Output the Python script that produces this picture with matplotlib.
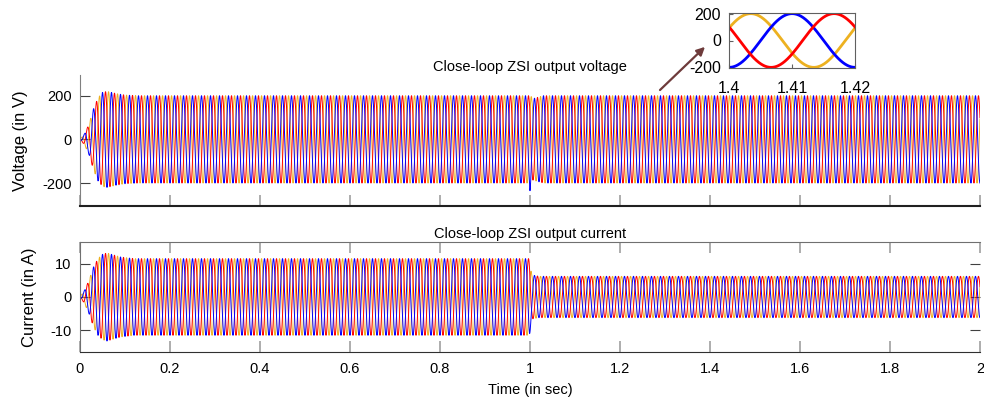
#%%

import numpy as np
import matplotlib
matplotlib.use("Agg")
import matplotlib.pyplot as plt
from matplotlib.patches import FancyArrowPatch

plt.rcParams['font.family'] = ['Liberation Sans', 'DejaVu Sans']

# %%

# Waveform settings
freq_hz = 50
phase_deg = {'blue': -90, 'orange': 28, 'red': 150}
line_colors = {'red': '#ff0000', 'blue': '#0000ff', 'orange': '#edb120'}

# Voltage envelope (peak value in V) at key times
volt_env_t = [0.0, 0.01, 0.02, 0.03, 0.04, 0.05, 0.06, 0.08, 0.10, 0.13, 0.998, 1.0, 1.004, 1.03, 2.0]
volt_env_a = [0, 25, 70, 140, 190, 215, 220, 210, 203, 200, 200, 235, 185, 200, 200]

# Current envelope (peak value in A) at key times
curr_env_t = [0.0, 0.01, 0.02, 0.03, 0.04, 0.05, 0.06, 0.07, 0.09, 0.12, 0.999, 1.004, 1.02, 2.0]
curr_env_a = [0, 2, 5, 9, 11.5, 12.8, 13.2, 12.8, 12.0, 11.5, 11.5, 6.6, 6.2, 6.2]

x_ticks = [0, 0.2, 0.4, 0.6, 0.8, 1, 1.2, 1.4, 1.6, 1.8, 2]
x_ticklabels = ['0', '0.2', '0.4', '0.6', '0.8', '1', '1.2', '1.4', '1.6', '1.8', '2']
volt_ticks = [-200, 0, 200]
curr_ticks = [-10, 0, 10]
inset_xticks = [1.4, 1.41, 1.42]
inset_yticks = [-200, 0, 200]

# %%

# Build the three-phase signals
t = np.linspace(0, 2, 40001)
w = 2 * np.pi * freq_hz
v_amp = np.interp(t, volt_env_t, volt_env_a)
i_amp = np.interp(t, curr_env_t, curr_env_a)
volt = {k: v_amp * np.sin(w * t + np.deg2rad(p)) for k, p in phase_deg.items()}
curr = {k: i_amp * np.sin(w * t + np.deg2rad(p)) for k, p in phase_deg.items()}

# %%

fig = plt.figure(figsize=(9.84, 4.05), dpi=100)
ax1 = fig.add_axes([0.0813, 0.4914, 0.9146, 0.3235])
ax2 = fig.add_axes([0.0813, 0.1309, 0.9146, 0.2716])

for k in ['orange', 'red', 'blue']:
    ax1.plot(t, volt[k], color=line_colors[k], lw=0.7)
    ax2.plot(t, curr[k], color=line_colors[k], lw=0.7)

# Top plot: only left and bottom spines
ax1.set_xlim(0, 2)
ax1.set_ylim(-305, 295)
ax1.set_xticks(x_ticks)
ax1.set_xticklabels([])
ax1.set_yticks(volt_ticks)
ax1.set_yticklabels([str(v) for v in volt_ticks])
for s in ['top', 'right']:
    ax1.spines[s].set_visible(False)
ax1.spines['left'].set_color('#808080')
ax1.spines['bottom'].set_color('#202020')
ax1.spines['bottom'].set_linewidth(1.5)
ax1.tick_params(axis='x', direction='in', length=8, color='#a0a0a0', width=1.2)
ax1.tick_params(axis='y', direction='in', length=7.5, color='#404040', labelsize=10.5, pad=6)
ax1.set_title('Close-loop ZSI output voltage', fontsize=10.5, pad=3)
ax1.set_ylabel('Voltage (in V)', fontsize=12, labelpad=10)

# Bottom plot
ax2.set_xlim(0, 2)
ax2.set_ylim(-16.5, 16.5)
ax2.set_xticks(x_ticks)
ax2.set_xticklabels(x_ticklabels)
ax2.set_yticks(curr_ticks)
ax2.set_yticklabels([str(v) for v in curr_ticks])
ax2.spines['right'].set_visible(False)
ax2.spines['top'].set_color('#707070')
ax2.spines['left'].set_color('#707070')
ax2.spines['bottom'].set_color('#303030')
ax2.tick_params(axis='x', direction='in', length=8, color='#a0a0a0', width=1.2,
                top=True, labelsize=10.5, pad=7)
ax2.tick_params(axis='y', direction='in', length=7.5, color='#404040', right=True,
                labelsize=10.5, pad=6)
ax2.set_title('Close-loop ZSI output current', fontsize=10.5, pad=3)
ax2.set_ylabel('Current (in A)', fontsize=12, labelpad=10)
ax2.set_xlabel('Time (in sec)', fontsize=10.5, labelpad=5)

# %%

# Zoomed inset around t = 1.4 s
ax3 = fig.add_axes([0.741, 0.832, 0.128, 0.136])
for k in ['orange', 'blue', 'red']:
    ax3.plot(t, volt[k], color=line_colors[k], lw=2)
ax3.set_xlim(1.4, 1.42)
ax3.set_ylim(-205, 205)
ax3.set_xticks(inset_xticks)
ax3.set_xticklabels(['1.4', '1.41', '1.42'])
ax3.set_yticks(inset_yticks)
ax3.set_yticklabels([str(v) for v in inset_yticks])
for s in ax3.spines.values():
    s.set_color('#606060')
ax3.tick_params(direction='in', length=3, color='#606060', labelsize=11.5)
ax3.tick_params(axis='x', pad=9)
ax3.tick_params(axis='y', pad=6)

arrow = FancyArrowPatch((0.6687, 0.773), (0.7185, 0.889), transform=fig.transFigure,
                        arrowstyle='-|>', mutation_scale=12, color='#6e3b3b', lw=1.6)
fig.add_artist(arrow)

fig.savefig('out.png', dpi=100)
